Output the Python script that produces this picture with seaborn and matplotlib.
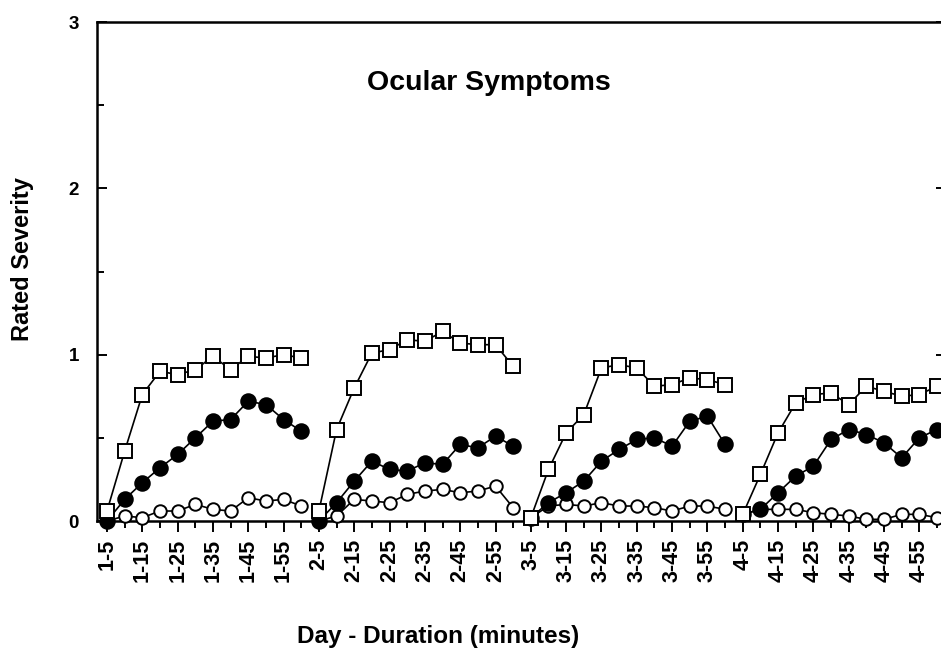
import matplotlib
matplotlib.use("Agg")
import matplotlib.pyplot as plt
import seaborn as sns
import pandas as pd
import numpy as np
from matplotlib.ticker import FixedLocator

# ---------------- data ----------------
days = [1, 2, 3, 4]
minutes = [5, 10, 15, 20, 25, 30, 35, 40, 45, 50, 55, 60]
label_minutes = [5, 15, 25, 35, 45, 55]

squares_d1 = [0.06, 0.42, 0.76, 0.90, 0.88, 0.91, 0.99, 0.91, 0.99, 0.98, 1.00, 0.98]
squares_d2 = [0.06, 0.55, 0.80, 1.01, 1.03, 1.09, 1.08, 1.14, 1.07, 1.06, 1.06, 0.93]
squares_d3 = [0.02, 0.31, 0.53, 0.64, 0.92, 0.94, 0.92, 0.81, 0.82, 0.86, 0.85, 0.82]
squares_d4 = [0.04, 0.28, 0.53, 0.71, 0.76, 0.77, 0.70, 0.81, 0.78, 0.75, 0.76, 0.81]

filled_d1 = [0.00, 0.13, 0.23, 0.32, 0.40, 0.50, 0.60, 0.61, 0.72, 0.70, 0.61, 0.54]
filled_d2 = [0.00, 0.11, 0.24, 0.36, 0.31, 0.30, 0.35, 0.34, 0.46, 0.44, 0.51, 0.45]
filled_d3 = [0.02, 0.11, 0.17, 0.24, 0.36, 0.43, 0.49, 0.50, 0.45, 0.60, 0.63, 0.46]
filled_d4 = [0.04, 0.07, 0.17, 0.27, 0.33, 0.49, 0.55, 0.52, 0.47, 0.38, 0.50, 0.55]

open_d1 = [0.00, 0.03, 0.02, 0.06, 0.06, 0.10, 0.07, 0.06, 0.14, 0.12, 0.13, 0.09]
open_d2 = [0.00, 0.03, 0.13, 0.12, 0.11, 0.16, 0.18, 0.19, 0.17, 0.18, 0.21, 0.08]
open_d3 = [0.02, 0.09, 0.10, 0.09, 0.11, 0.09, 0.09, 0.08, 0.06, 0.09, 0.09, 0.07]
open_d4 = [0.04, 0.07, 0.07, 0.07, 0.05, 0.04, 0.03, 0.01, 0.01, 0.04, 0.04, 0.02]

series = {
    "open": [open_d1, open_d2, open_d3, open_d4],
    "filled": [filled_d1, filled_d2, filled_d3, filled_d4],
    "square": [squares_d1, squares_d2, squares_d3, squares_d4],
}

# ---------------- build table ----------------
rows = []
for name, per_day in series.items():
    for di, (day, vals) in enumerate(zip(days, per_day)):
        for mi, (m, v) in enumerate(zip(minutes, vals)):
            rows.append({"series": name, "day": day,
                         "pos": di * len(minutes) + mi, "val": v})
df = pd.DataFrame(rows)

# ---------------- style ----------------
sns.set_style("ticks")
plt.rcParams["font.family"] = ["Liberation Sans", "DejaVu Sans"]
plt.rcParams["font.weight"] = "bold"
plt.rcParams["axes.labelweight"] = "bold"
plt.rcParams["text.color"] = "black"
plt.rcParams["axes.labelcolor"] = "black"
plt.rcParams["xtick.color"] = "black"
plt.rcParams["ytick.color"] = "black"

W, H = 941, 652
fig = plt.figure(figsize=(W / 100, H / 100), dpi=100)
ax_left, ax_right, ax_top, ax_bot = 97, 946, 22, 521
ax = fig.add_axes([ax_left / W, 1 - ax_bot / H,
                   (ax_right - ax_left) / W, (ax_bot - ax_top) / H])

styles = {
    "open":   dict(marker="o", markersize=9, markerfacecolor="white", zorder=3),
    "filled": dict(marker="o", markersize=10.5, markerfacecolor="black", zorder=4),
    "square": dict(marker="s", markersize=9.5, markerfacecolor="white", zorder=5),
}
for name, st in styles.items():
    sub = df[df["series"] == name]
    sns.lineplot(data=sub, x="pos", y="val", units="day", estimator=None,
                 sort=False, color="black", linewidth=1.2,
                 markeredgecolor="black", markeredgewidth=1.4,
                 clip_on=False, ax=ax, legend=False, **st)

# ---------------- axes ----------------
n = len(days) * len(minutes)
step_px = (937 - 107) / (n - 1)
ax.set_xlim(-(107 - ax_left) / step_px, (n - 1) + (ax_right - 937) / step_px)
ax.set_ylim(0, 3)

major_pos, major_lab = [], []
for di, day in enumerate(days):
    for m in label_minutes:
        major_pos.append(di * len(minutes) + minutes.index(m))
        major_lab.append(f"{day}-{m}")
minor_pos = [p for p in range(n) if p not in major_pos]
ax.xaxis.set_major_locator(FixedLocator(major_pos))
ax.xaxis.set_minor_locator(FixedLocator(minor_pos))
ax.set_xticklabels(major_lab, rotation=90, fontsize=15.5, fontweight="bold")
ax.tick_params(axis="x", which="major", direction="out", length=8, width=1.4,
               pad=5)
ax.tick_params(axis="x", which="minor", direction="out", length=5, width=1.4)

ax.yaxis.set_major_locator(FixedLocator([0, 1, 2, 3]))
ax.yaxis.set_minor_locator(FixedLocator([0.5, 1.5, 2.5]))
ax.set_yticklabels(["0", "1", "2", "3"], fontsize=13.5, fontweight="bold")
ax.tick_params(axis="y", which="major", direction="in", length=7, width=1.4,
               pad=13, right=True)
ax.tick_params(axis="y", which="minor", direction="in", length=5, width=1.4,
               right=False)

for sp in ax.spines.values():
    sp.set_visible(True)
    sp.set_color("black")
    sp.set_linewidth(1.8)

ax.set_xlabel("Day - Duration (minutes)", fontsize=17.5, fontweight="bold")
ax.set_ylabel("Rated Severity", fontsize=17, fontweight="bold")
ax.xaxis.set_label_coords((438 - ax_left) / (ax_right - ax_left),
                          (ax_bot - 625) / (ax_bot - ax_top))
ax.yaxis.set_label_coords((34 - ax_left) / (ax_right - ax_left),
                          (ax_bot - 259) / (ax_bot - ax_top))

ax.text((489 - ax_left) / (ax_right - ax_left), (ax_bot - 83) / (ax_bot - ax_top),
        "Ocular Symptoms", transform=ax.transAxes, ha="center", va="center",
        fontsize=20.5, fontweight="bold")

fig.savefig("out.png", dpi=100)
